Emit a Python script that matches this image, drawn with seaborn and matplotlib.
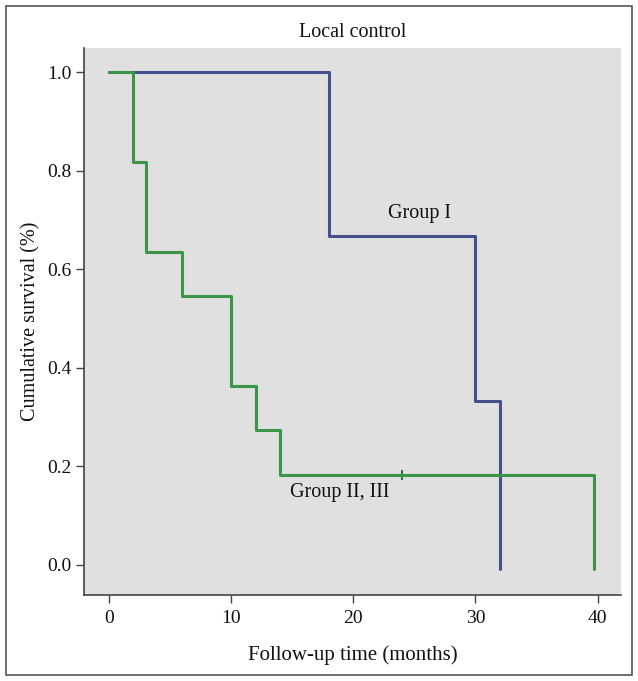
import pandas as pd
import matplotlib.pyplot as plt
import seaborn as sns
from matplotlib.patches import Rectangle

# Kaplan-Meier step data
time_g1 = [0, 18, 30, 32, 32]
surv_g1 = [1.0, 0.667, 0.333, -0.008, -0.008]

time_g23 = [0, 2, 3, 6, 10, 12, 14, 39.7, 39.7]
surv_g23 = [1.0, 0.818, 0.636, 0.545, 0.364, 0.273, 0.182, -0.008, -0.008]

censor_time = [24]
censor_surv = [0.182]

x_ticks = [0, 10, 20, 30, 40]
y_ticks = [0.0, 0.2, 0.4, 0.6, 0.8, 1.0]

df = pd.concat([
    pd.DataFrame({'time': time_g1, 'surv': surv_g1, 'group': 'Group I'}),
    pd.DataFrame({'time': time_g23, 'surv': surv_g23, 'group': 'Group II, III'}),
])

sns.set_style('white')
plt.rcParams['font.family'] = ['Liberation Serif', 'DejaVu Serif']

fig = plt.figure(figsize=(6.38, 6.81), dpi=100)
ax = fig.add_axes([0.1317, 0.1263, 0.8413, 0.8032])
ax.set_facecolor('#e0e0e0')

sns.lineplot(data=df, x='time', y='surv', hue='group', drawstyle='steps-post',
             palette={'Group I': '#44508a', 'Group II, III': '#3c9448'},
             linewidth=2.2, legend=False, estimator=None, sort=False, ax=ax)
sns.scatterplot(x=censor_time, y=censor_surv, marker='|', s=60, color='#2e7a3a',
                linewidth=1.5, ax=ax)

ax.set_xlim(-2.05, 41.9)
ax.set_ylim(-0.061, 1.049)
ax.set_xticks(x_ticks)
ax.set_yticks(y_ticks)
ax.set_xticklabels([str(t) for t in x_ticks])
ax.set_yticklabels([f'{t:.1f}' for t in y_ticks])
ax.tick_params(axis='both', direction='out', length=6, width=1, color='#444444',
               labelsize=14, pad=3, bottom=True, left=True, labelcolor='#111111')
ax.tick_params(axis='x', pad=5)

for s in ['top', 'right']:
    ax.spines[s].set_visible(False)
for s in ['left', 'bottom']:
    ax.spines[s].set_color('#444444')
    ax.spines[s].set_linewidth(1.2)

ax.set_xlabel('Follow-up time (months)', fontsize=15, labelpad=13, color='#111111')
ax.set_ylabel('Cumulative survival (%)', fontsize=14.5, labelpad=5, color='#111111')
ax.set_title('Local control', fontsize=14.5, pad=8, color='#111111')

ax.text(25.4, 0.714, 'Group I', fontsize=14.5, ha='center', va='center', color='#111111')
ax.text(18.9, 0.146, 'Group II, III', fontsize=14.5, ha='center', va='center', color='#111111')

# outer frame
fig.patches.append(Rectangle((0.009, 0.009), 0.982, 0.982, transform=fig.transFigure,
                             fill=False, edgecolor='#555555', linewidth=1.2))

fig.savefig('out.png', dpi=100)
